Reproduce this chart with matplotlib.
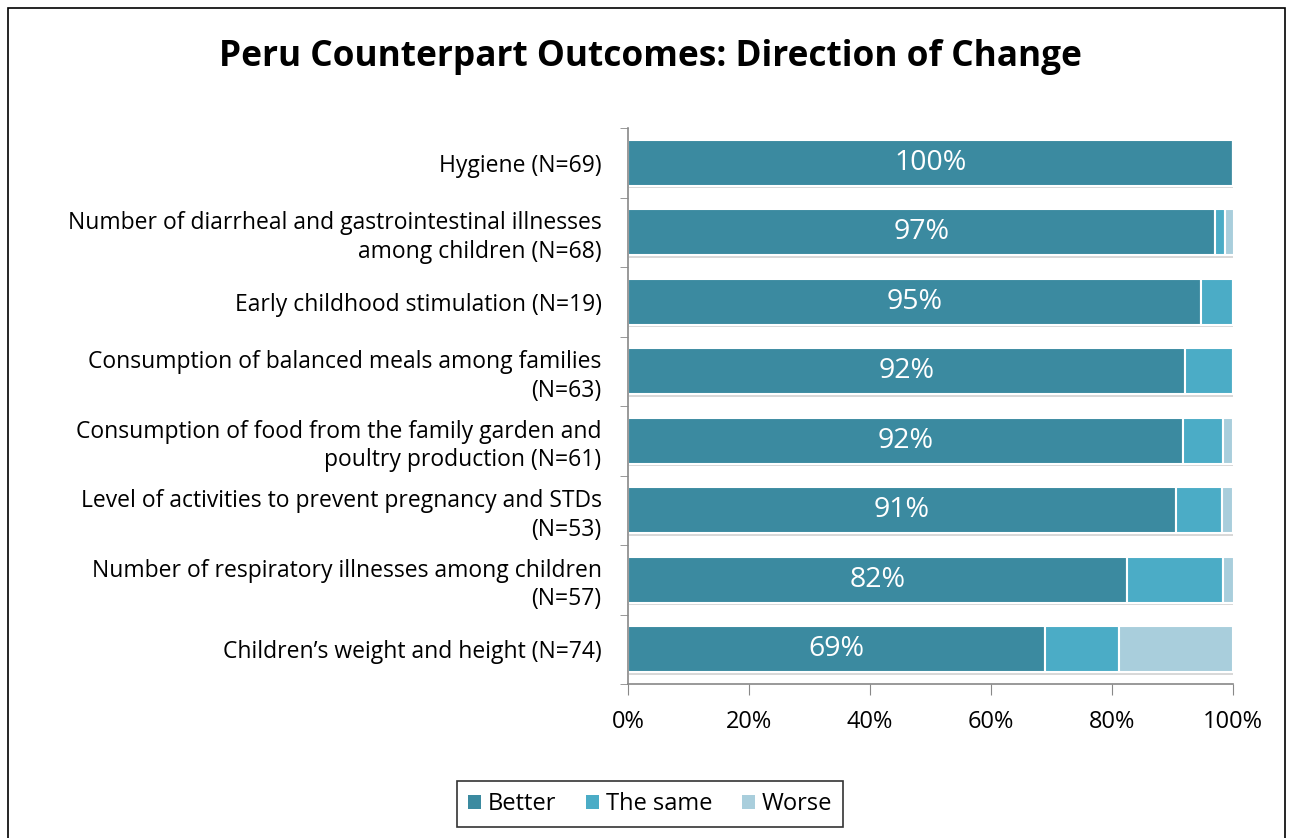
import matplotlib
matplotlib.use("Agg")
import matplotlib.pyplot as plt
import matplotlib.patheffects as pe
from matplotlib.patches import Rectangle
import numpy as np

plt.rcParams['font.family'] = ['Open Sans', 'DejaVu Sans']

categories = [
    "Hygiene (N=69)",
    "Number of diarrheal and gastrointestinal illnesses\namong children (N=68)",
    "Early childhood stimulation (N=19)",
    "Consumption of balanced meals among families\n(N=63)",
    "Consumption of food from the family garden and\npoultry production (N=61)",
    "Level of activities to prevent pregnancy and STDs\n(N=53)",
    "Number of respiratory illnesses among children\n(N=57)",
    "Children\u2019s weight and height (N=74)",
]
better = [100.0, 97.1, 94.7, 92.1, 91.8, 90.6, 82.5, 68.9]
same = [0.0, 1.5, 5.3, 7.9, 6.6, 7.5, 15.8, 12.2]
worse = [0.0, 1.5, 0.0, 0.0, 1.6, 1.9, 1.8, 18.9]
xticks = [0, 20, 40, 60, 80, 100]

colors = {"Better": "#3B8AA0", "The same": "#4BACC6", "Worse": "#A9CEDC"}

fig = plt.figure(figsize=(12.92, 8.38), dpi=100)
ax = fig.add_axes([628/1292, 1-684/838, 605/1292, 556/838])

y = np.arange(len(categories))
shadow = [pe.SimplePatchShadow(offset=(1, -2), shadow_rgbFace='#666666', alpha=0.25), pe.Normal()]
left = np.zeros(len(categories))
for name, vals in [("Better", better), ("The same", same), ("Worse", worse)]:
    vals = np.array(vals)
    bars = ax.barh(y, vals, left=left, height=0.66, color=colors[name],
                   edgecolor='white', linewidth=1.5, label=name)
    for b in bars:
        b.set_path_effects(shadow)
    left = left + vals

for yi, v in zip(y, better):
    ax.text(v / 2, yi, f"{round(v):.0f}%", ha='center', va='center',
            color='white', fontsize=20.5)

ax.set_xlim(0, 100)
ax.set_ylim(len(categories) - 0.5, -0.5)
ax.set_xticks(xticks)
ax.set_xticklabels([f"{t}%" for t in xticks], fontsize=17)
ax.set_yticks(y)
ax.set_yticklabels(categories, fontsize=16.5, linespacing=1.26)
ax.set_yticks(np.arange(-0.5, len(categories) + 0.5, 1), minor=True)
ax.tick_params(axis='y', which='major', length=0, pad=19)
ax.tick_params(axis='y', which='minor', length=6, color='#888888', direction='out')
ax.tick_params(axis='x', which='major', length=8, color='#888888', direction='out', pad=11)

for s in ['top', 'right']:
    ax.spines[s].set_visible(False)
for s in ['left', 'bottom']:
    ax.spines[s].set_color('#888888')
    ax.spines[s].set_linewidth(1.2)

fig.text(650/1292, 1-57/838, "Peru Counterpart Outcomes: Direction of Change",
         ha='center', va='center', fontsize=25.4, fontweight='bold')

leg = fig.legend(loc='center', bbox_to_anchor=(650/1292, 1-804/838), ncol=3,
                 fontsize=17, frameon=True, fancybox=False, edgecolor='black',
                 handlelength=0.55, handleheight=0.55, handletextpad=0.3,
                 columnspacing=1.25, borderpad=0.45)
leg.get_frame().set_linewidth(1.2)
for h in leg.legend_handles:
    h.set_path_effects([])
    h.set_edgecolor('none')

fig.patches.append(Rectangle((8/1292, -0.01), 1277/1292, 1 - 8/838 + 0.01,
                             transform=fig.transFigure, fill=False,
                             edgecolor='black', linewidth=1.2))

fig.savefig("out.png", dpi=100)
